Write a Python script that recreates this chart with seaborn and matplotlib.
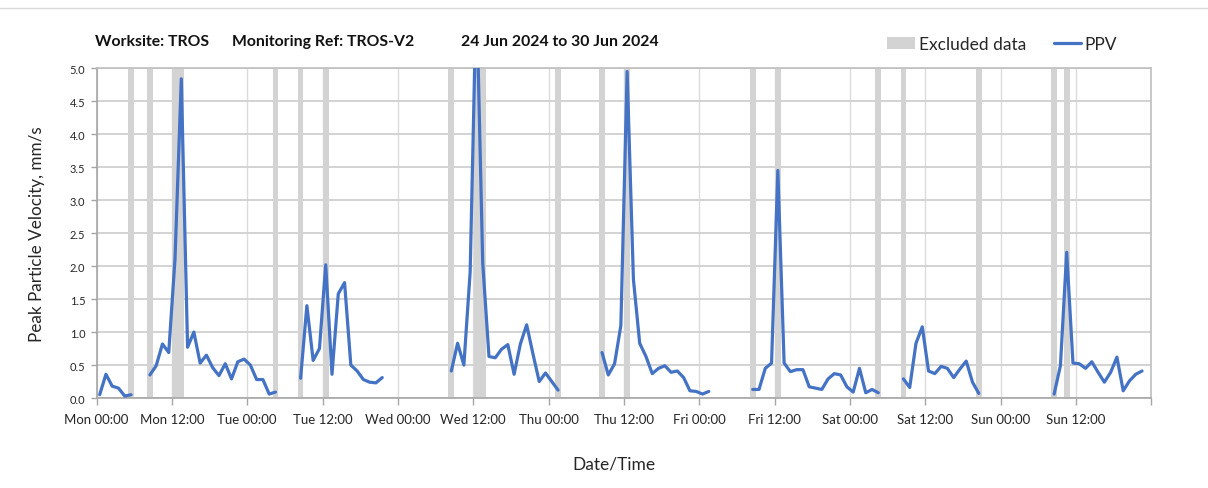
import pandas as pd
import matplotlib
matplotlib.use("Agg")
import matplotlib.pyplot as plt
from matplotlib.patches import Patch
from matplotlib.lines import Line2D
import seaborn as sns

# Hourly peak particle velocity (mm/s). Each run of consecutive readings starts
# at the given hour (hours counted from Mon 00:00); hours outside runs have no data.
run_start = [0, 8, 32, 56, 80, 104, 128, 152]
run_ppv = [
    [0.05, 0.36, 0.18, 0.15, 0.03, 0.05],
    [0.35, 0.49, 0.82, 0.69, 2.11, 4.84, 0.77, 1.00, 0.53, 0.65, 0.46,
     0.34, 0.52, 0.29, 0.55, 0.59, 0.50, 0.28, 0.28, 0.06, 0.09],
    [0.30, 1.40, 0.57, 0.75, 2.02, 0.36, 1.58, 1.75, 0.50, 0.41, 0.28,
     0.24, 0.23, 0.31],
    [0.41, 0.83, 0.50, 1.91, 6.20, 2.05, 0.63, 0.61, 0.74, 0.81, 0.36,
     0.82, 1.11, 0.67, 0.25, 0.38, 0.25, 0.12],
    [0.69, 0.35, 0.52, 1.10, 4.95, 1.80, 0.83, 0.63, 0.37, 0.45, 0.49,
     0.39, 0.41, 0.31, 0.11, 0.10, 0.06, 0.10],
    [0.13, 0.13, 0.45, 0.53, 3.45, 0.53, 0.40, 0.43, 0.43, 0.17, 0.15,
     0.13, 0.29, 0.37, 0.35, 0.17, 0.09, 0.45, 0.08, 0.13, 0.08],
    [0.29, 0.16, 0.83, 1.08, 0.41, 0.37, 0.48, 0.45, 0.31, 0.44, 0.56,
     0.24, 0.07],
    [0.06, 0.49, 2.21, 0.53, 0.52, 0.45, 0.55, 0.39, 0.24, 0.39, 0.62,
     0.11, 0.26, 0.36, 0.41],
]

# Hours whose readings were excluded
excluded_hours = [5, 8, 12, 13, 28, 32, 36, 56, 60, 61, 73, 80, 84,
                  104, 108, 124, 128, 140, 152, 154]

tick_labels = ["Mon 00:00", "Mon 12:00", "Tue 00:00", "Tue 12:00",
               "Wed 00:00", "Wed 12:00", "Thu 00:00", "Thu 12:00",
               "Fri 00:00", "Fri 12:00", "Sat 00:00", "Sat 12:00",
               "Sun 00:00", "Sun 12:00", ""]

title_parts = ["Worksite: TROS", "Monitoring Ref: TROS-V2",
               "24 Jun 2024 to 30 Jun 2024"]

LINE_BLUE = "#4472C4"
BAND_GREY = "#D3D3D3"
GRID_GREY = "#D0D0D0"
AXIS_GREY = "#A6A6A6"
TEXT_DARK = "#262626"

# Long-form table: one row per reading, one unit per unbroken run
rows = []
for run_id, (start, values) in enumerate(zip(run_start, run_ppv)):
    for i, v in enumerate(values):
        rows.append({"run": run_id, "hour": start + i + 0.5, "ppv": v})
df = pd.DataFrame(rows)

sns.set_theme(style="white")
plt.rcParams["font.family"] = ["Lato", "DejaVu Sans"]

W, H = 1208, 489
fig = plt.figure(figsize=(W / 100, H / 100), dpi=100)
ax = fig.add_axes([0.0799, 0.184, 0.9532 - 0.0799, 0.8583 - 0.184])

# Excluded-data bands: merge consecutive hours into one span
groups = []
for h in excluded_hours:
    if groups and h == groups[-1][1] + 1:
        groups[-1][1] = h
    else:
        groups.append([h, h])
for a, b in groups:
    ax.axvspan(a + 0.05, b + 0.95, color=BAND_GREY, lw=0, zorder=1)

sns.lineplot(data=df, x="hour", y="ppv", units="run", estimator=None,
             color=LINE_BLUE, lw=2.3, ax=ax, zorder=3, legend=False)

ax.set_xlim(0, 168)
ax.set_ylim(0, 5)
ax.set_xticks(range(0, 169, 12))
ax.set_xticklabels(tick_labels)
ax.set_yticks([i * 0.5 for i in range(11)])
ax.set_yticklabels([f"{i * 0.5:.1f}" for i in range(11)])

ax.yaxis.grid(True, color=GRID_GREY, lw=1.3, zorder=0)
ax.xaxis.grid(True, color="#DCDCDC", lw=1.0, zorder=0)
ax.set_axisbelow(True)
for side in ["left", "right", "top", "bottom"]:
    ax.spines[side].set_visible(True)
    ax.spines[side].set_color(AXIS_GREY)
    ax.spines[side].set_linewidth(1.2)
ax.spines["right"].set_color("#BFBFBF")
ax.spines["top"].set_color("#BFBFBF")

ax.tick_params(axis="x", direction="out", length=5, width=1, color=AXIS_GREY,
               labelsize=9.5, labelcolor=TEXT_DARK, pad=6, bottom=True)
ax.tick_params(axis="y", direction="out", length=4, width=1, color=AXIS_GREY,
               labelsize=8, labelcolor=TEXT_DARK, pad=4, left=True)

ax.set_xlabel("Date/Time", fontsize=12.5, color=TEXT_DARK)
ax.xaxis.set_label_coords(0.49, -0.175)
ax.set_ylabel("Peak Particle Velocity, mm/s", fontsize=12.3, color=TEXT_DARK)
ax.yaxis.set_label_coords(-0.049, 0.5)

# Title pieces laid out along one line
for part, x_px in zip(title_parts, [95, 232, 461]):
    fig.text(x_px / W, 1 - 42 / H, part, fontsize=11.3, fontweight="bold",
             color="#111111", ha="left", va="center")

handles = [Patch(facecolor=BAND_GREY, edgecolor="none"),
           Line2D([0], [0], color=LINE_BLUE, lw=2.3)]
fig.legend(handles, ["Excluded data", "PPV"], loc="center right",
           bbox_to_anchor=(1126 / W, 1 - 45 / H), ncol=2, frameon=False,
           fontsize=12.5, handlelength=1.6, handleheight=0.7,
           handletextpad=0.2, columnspacing=1.6, labelcolor=TEXT_DARK,
           borderpad=0.0)

# Thin chart-area border line along the top
fig.add_artist(Line2D([0, 1], [1 - 9 / H, 1 - 9 / H],
                      transform=fig.transFigure, color="#D9D9D9", lw=1.0))

fig.savefig("out.png", dpi=100, facecolor="white")
